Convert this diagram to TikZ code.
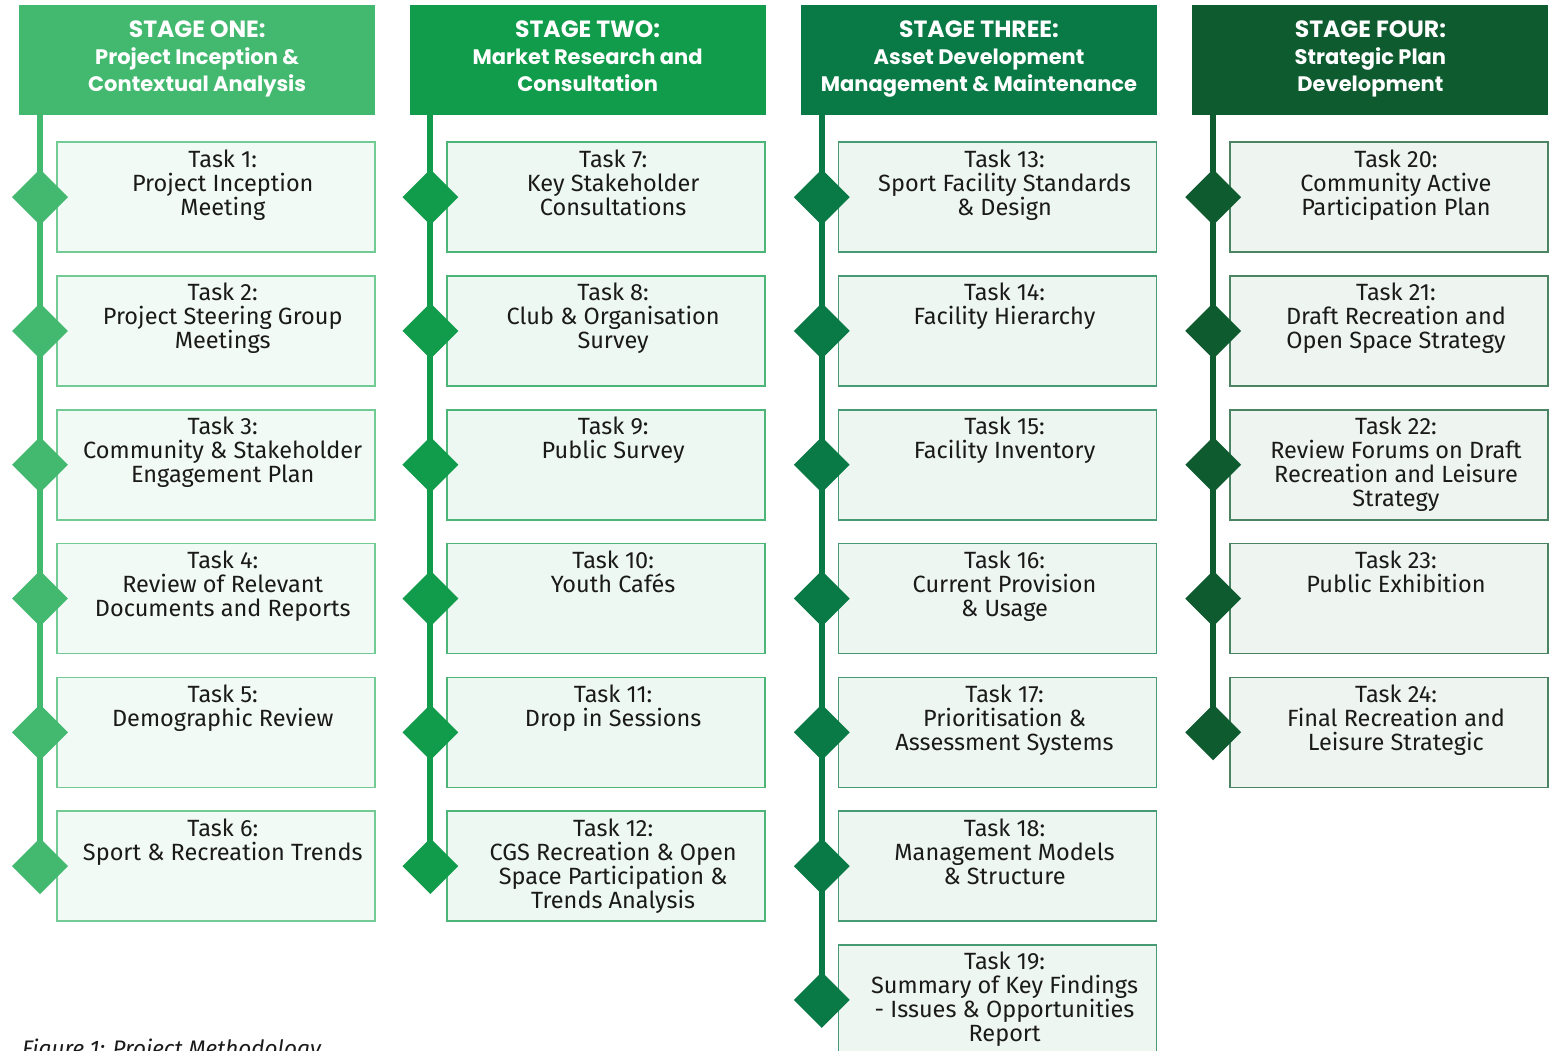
\documentclass[tikz,border=0pt]{standalone}
\usepackage{fontspec}
\setmainfont{Fira Sans}
\newfontfamily\headfont{Poppins}
\usetikzlibrary{shapes.geometric, positioning}
\definecolor{stageone}{HTML}{43B970}
\definecolor{stagetwo}{HTML}{109C4A}
\definecolor{stagethree}{HTML}{097A45}
\definecolor{stagefour}{HTML}{0E5B2F}
\definecolor{ink}{HTML}{1A1A1A}

% task text, top aligned in the box
\newcommand{\tasktext}[2]{\parbox[c][110pt][t]{318pt}{\centering\advance\leftskip by 14pt
    \rule{0pt}{25pt}Task #1:\\#2}}
\newcommand{\stagehead}[2]{{\fontsize{23.5}{27}\selectfont #1}\\#2\strut}

\begin{document}
\begin{tikzpicture}[
    x=1pt, y=-1pt,
    stage/.style={fill=#1, text=white, minimum width=356pt, minimum height=110pt,
                  inner sep=0pt, align=center,
                  font=\headfont\bfseries\fontsize{21}{27}\selectfont},
    task/.style={draw=#1!75, fill=#1!7, line width=1.5pt, inner sep=0pt, text=ink,
                 font=\fontsize{23.5}{24}\selectfont},
    gem/.style={diamond, fill=#1, minimum size=56pt, inner sep=0pt},
    spine/.style={draw=#1, line width=6pt},
    node distance=22.3pt,
]
    \useasboundingbox (0,0) rectangle (1553,1051);

    % stage headers
    \node[stage=stageone, anchor=north west] (s1) at (19,5)
        {\stagehead{STAGE ONE:}{Project Inception \&\\Contextual Analysis}};
    \node[stage=stagetwo, right=34pt of s1] (s2)
        {\stagehead{STAGE TWO:}{Market Research and\\Consultation}};
    \node[stage=stagethree, right=35pt of s2] (s3)
        {\stagehead{STAGE THREE:}{Asset Development\\Management \& Maintenance}};
    \node[stage=stagefour, right=35pt of s3] (s4)
        {\stagehead{STAGE FOUR:}{Strategic Plan\\Development}};

    % stage one
    \node[task=stageone, below right=26pt and 37pt of s1.south west] (t1)
        {\tasktext{1}{Project Inception\\Meeting}};
    \node[task=stageone, below=of t1] (t2) {\tasktext{2}{Project Steering Group\\Meetings}};
    \node[task=stageone, below=of t2] (t3) {\tasktext{3}{Community \& Stakeholder\\Engagement Plan}};
    \node[task=stageone, below=of t3] (t4) {\tasktext{4}{Review of Relevant\\Documents and Reports}};
    \node[task=stageone, below=of t4] (t5) {\tasktext{5}{Demographic Review}};
    \node[task=stageone, below=of t5] (t6) {\tasktext{6}{Sport \& Recreation Trends}};

    % stage two
    \node[task=stagetwo, below right=26pt and 37pt of s2.south west] (t7)
        {\tasktext{7}{Key Stakeholder\\Consultations}};
    \node[task=stagetwo, below=of t7]  (t8)  {\tasktext{8}{Club \& Organisation\\Survey}};
    \node[task=stagetwo, below=of t8]  (t9)  {\tasktext{9}{Public Survey}};
    \node[task=stagetwo, below=of t9]  (t10) {\tasktext{10}{Youth Cafés}};
    \node[task=stagetwo, below=of t10] (t11) {\tasktext{11}{Drop in Sessions}};
    \node[task=stagetwo, below=of t11] (t12) {\tasktext{12}{CGS Recreation \& Open\\Space Participation \&\\Trends Analysis}};

    % stage three
    \node[task=stagethree, below right=26pt and 37pt of s3.south west] (t13)
        {\tasktext{13}{Sport Facility Standards\\\& Design}};
    \node[task=stagethree, below=of t13] (t14) {\tasktext{14}{Facility Hierarchy}};
    \node[task=stagethree, below=of t14] (t15) {\tasktext{15}{Facility Inventory}};
    \node[task=stagethree, below=of t15] (t16) {\tasktext{16}{Current Provision\\\& Usage}};
    \node[task=stagethree, below=of t16] (t17) {\tasktext{17}{Prioritisation \&\\Assessment Systems}};
    \node[task=stagethree, below=of t17] (t18) {\tasktext{18}{Management Models\\\& Structure}};
    \node[task=stagethree, below=of t18] (t19) {\tasktext{19}{Summary of Key Findings\\- Issues \& Opportunities\\Report}};

    % stage four
    \node[task=stagefour, below right=26pt and 37pt of s4.south west] (t20)
        {\tasktext{20}{Community Active\\Participation Plan}};
    \node[task=stagefour, below=of t20] (t21) {\tasktext{21}{Draft Recreation and\\Open Space Strategy}};
    \node[task=stagefour, below=of t21] (t22) {\tasktext{22}{Review Forums on Draft\\Recreation and Leisure\\Strategy}};
    \node[task=stagefour, below=of t22] (t23) {\tasktext{23}{Public Exhibition}};
    \node[task=stagefour, below=of t23] (t24) {\tasktext{24}{Final Recreation and\\Leisure Strategic}};

    % timeline spines and diamonds
    \foreach \i in {1,...,6}   \node[gem=stageone]   (d\i) at ([xshift=-16pt]t\i.west) {};
    \foreach \i in {7,...,12}  \node[gem=stagetwo]   (d\i) at ([xshift=-16pt]t\i.west) {};
    \foreach \i in {13,...,19} \node[gem=stagethree] (d\i) at ([xshift=-16pt]t\i.west) {};
    \foreach \i in {20,...,24} \node[gem=stagefour]  (d\i) at ([xshift=-16pt]t\i.west) {};

    \foreach \s/\a/\b/\c in {s1/d1/d6/stageone, s2/d7/d12/stagetwo,
                             s3/d13/d19/stagethree, s4/d20/d24/stagefour}
        \draw[spine=\c] (\s.south -| \a.center) -- (\b.center);

    \node[anchor=base west, inner sep=0pt, text=ink,
          font=\itshape\fontsize{22.5}{24}\selectfont] (cap) at (22,1056)
        {Figure 1: Project Methodology};
\end{tikzpicture}
\end{document}
